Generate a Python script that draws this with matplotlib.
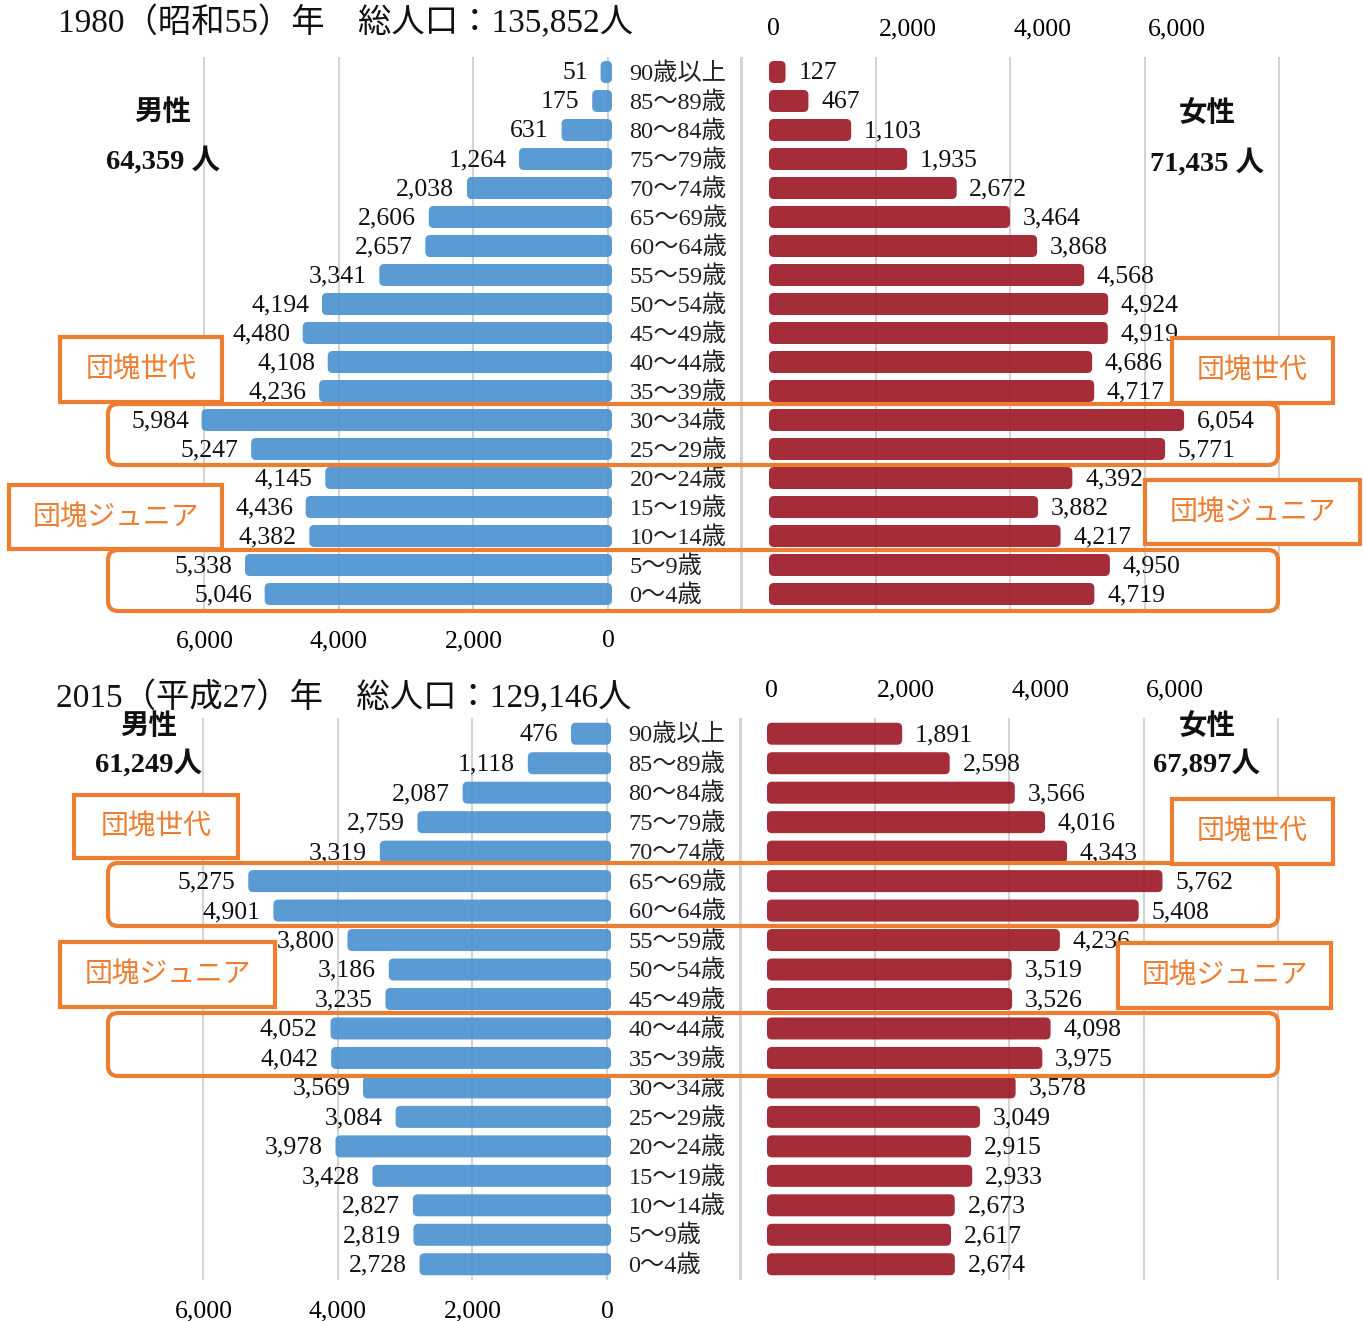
import numpy as np
import matplotlib.pyplot as plt
from matplotlib.patches import FancyBboxPatch, Rectangle

plt.rcParams['font.family'] = ['Liberation Serif', 'Noto Sans CJK JP']

# 年齢階級（上から）
ages = ['90歳以上', '85〜89歳', '80〜84歳', '75〜79歳', '70〜74歳', '65〜69歳',
        '60〜64歳', '55〜59歳', '50〜54歳', '45〜49歳', '40〜44歳', '35〜39歳',
        '30〜34歳', '25〜29歳', '20〜24歳', '15〜19歳', '10〜14歳', '5〜9歳', '0〜4歳']

male_1980 = [51, 175, 631, 1264, 2038, 2606, 2657, 3341, 4194, 4480, 4108, 4236,
             5984, 5247, 4145, 4436, 4382, 5338, 5046]
female_1980 = [127, 467, 1103, 1935, 2672, 3464, 3868, 4568, 4924, 4919, 4686, 4717,
               6054, 5771, 4392, 3882, 4217, 4950, 4719]
male_2015 = [476, 1118, 2087, 2759, 3319, 5275, 4901, 3800, 3186, 3235, 4052, 4042,
             3569, 3084, 3978, 3428, 2827, 2819, 2728]
female_2015 = [1891, 2598, 3566, 4016, 4343, 5762, 5408, 4236, 3519, 3526, 4098, 3975,
               3578, 3049, 2915, 2933, 2673, 2617, 2674]

tick_vals = [0, 2000, 4000, 6000]
tick_text = ['0', '2,000', '4,000', '6,000']

BLUE = '#4990D0'
RED = '#9B1624'
ORANGE = '#ED7D31'
GRID = '#D4D4D4'

W, H = 1363, 1321
S = 134.5          # px per 2000
BAR_PAD = 4        # px
ROUND = 5          # px
BAR_PX = 22        # outer bar thickness px
NUM_SIZE = 18.5

fig = plt.figure(figsize=(W / 100, H / 100), dpi=100)


def px_axes(x0, x1, y0, y1):
    return fig.add_axes([x0 / W, 1 - y1 / H, (x1 - x0) / W, (y1 - y0) / H])


def rounded_bars(ax, bars, color, ux, uy):
    for b in bars:
        x0, y0, w, h = b.get_x(), b.get_y(), b.get_width(), b.get_height()
        b.set_visible(False)
        pad = BAR_PAD * ux
        x0, w = x0 - pad, w + 2 * pad
        r = min(ROUND * ux, w / 2)
        ax.add_patch(FancyBboxPatch((x0, y0), w, h,
                                    boxstyle=f"round,pad=0,rounding_size={r}",
                                    mutation_aspect=uy / ux, fc=color, ec='none',
                                    alpha=0.9, zorder=3))


def panel(male, female, y_top, y_bot, m_zero, f_zero, f_grid0):
    n = len(ages)
    row_px = (y_bot - y_top) / n
    ux = 2000 / S
    uy = 1 / row_px
    y = np.arange(n)
    h = BAR_PX / row_px

    # 男性
    axm = px_axes(0, 745, y_top, y_bot)
    axm.set_xlim(m_zero / S * 2000, (m_zero - 745) / S * 2000)
    axm.set_ylim(n - 0.5, -0.5)
    bars = axm.barh(y, male, height=h)
    rounded_bars(axm, bars, BLUE, ux, uy)
    for g in [6000, 4000, 2000, 0, -2000]:
        axm.axvline(g, color=GRID, lw=1.5, zorder=1, clip_on=False)
    for i, v in enumerate(male):
        axm.annotate(f"{v:,}", xy=(v, i), xytext=(-12, -1), textcoords='offset points',
                     ha='right', va='center', fontsize=NUM_SIZE, color='#111111', zorder=5)
    for i, a in enumerate(ages):
        axm.annotate(a, xy=(0, i), xytext=(15.5, -1), textcoords='offset points',
                     ha='left', va='center', fontsize=17.5, color='#222222', zorder=5)
    axm.set_xticks(tick_vals)
    axm.set_xticklabels(tick_text)
    axm.set_yticks([])
    axm.tick_params(axis='x', length=0, labelsize=NUM_SIZE, pad=15.5)
    for s in axm.spines.values():
        s.set_visible(False)
    axm.patch.set_alpha(0)

    # 女性
    axf = px_axes(735, W, y_top, y_bot)
    axf.set_xlim((735 - f_zero) / S * 2000, (W - f_zero) / S * 2000)
    axf.set_ylim(n - 0.5, -0.5)
    bars = axf.barh(y, female, height=h)
    rounded_bars(axf, bars, RED, ux, uy)
    g0 = (f_grid0 - f_zero) / S * 2000
    for k in range(5):
        axf.axvline(g0 + 2000 * k, color=GRID, lw=1.5, zorder=1, clip_on=False)
    for i, v in enumerate(female):
        axf.annotate(f"{v:,}", xy=(v, i), xytext=(12, -1), textcoords='offset points',
                     ha='left', va='center', fontsize=NUM_SIZE, color='#111111', zorder=5)
    axf.xaxis.tick_top()
    axf.set_xticks(tick_vals)
    axf.set_xticklabels(tick_text)
    axf.set_yticks([])
    axf.tick_params(axis='x', length=0, labelsize=NUM_SIZE, pad=12.5)
    for s in axf.spines.values():
        s.set_visible(False)
    axf.patch.set_alpha(0)


panel(male_1980, female_1980, 57.5, 608.5, 608, 773, 741)
panel(male_2015, female_2015, 719, 1279, 607, 771, 740)

# 注記用オーバーレイ（ピクセル座標）
ov = fig.add_axes([0, 0, 1, 1], zorder=10)
ov.set_xlim(0, W)
ov.set_ylim(H, 0)
ov.axis('off')
ov.patch.set_alpha(0)

ov.text(58, 23, '1980（昭和55）年　総人口：135,852人', fontsize=24,
        ha='left', va='center', color='#111111')
ov.text(56, 698, '2015（平成27）年　総人口：129,146人', fontsize=24,
        ha='left', va='center', color='#111111')

for x, yy, s in [(163, 113, '男性'), (163, 161, '64,359 人'),
                 (1207, 114, '女性'), (1207, 163, '71,435 人'),
                 (149, 727, '男性'), (149, 764, '61,249人'),
                 (1207, 727, '女性'), (1207, 764, '67,897人')]:
    ov.text(x, yy, s, fontsize=20.5, fontweight='bold', ha='center', va='center',
            color='#111111')

wide_boxes = [(108, 404, 1278, 465), (108, 550, 1278, 611),
              (108, 863, 1278, 926), (108, 1013, 1278, 1076)]
for x0, y0, x1, y1 in wide_boxes:
    ov.add_patch(FancyBboxPatch((x0, y0), x1 - x0, y1 - y0,
                                boxstyle='round,pad=0,rounding_size=10',
                                fc='none', ec=ORANGE, lw=3))

label_boxes = [(60, 337, 222, 402, '団塊世代'), (1172, 338, 1333, 403, '団塊世代'),
               (9, 485, 222, 549, '団塊ジュニア'), (1145, 480, 1360, 544, '団塊ジュニア'),
               (74, 795, 238, 858, '団塊世代'), (1172, 799, 1333, 864, '団塊世代'),
               (60, 942, 275, 1007, '団塊ジュニア'), (1118, 943, 1331, 1008, '団塊ジュニア')]
for x0, y0, x1, y1, s in label_boxes:
    ov.add_patch(Rectangle((x0, y0), x1 - x0, y1 - y0, fc='white', ec=ORANGE, lw=3))
    ov.text((x0 + x1) / 2, (y0 + y1) / 2 + 1, s, fontsize=20, color=ORANGE,
            ha='center', va='center')

fig.savefig('out.png', dpi=100)
